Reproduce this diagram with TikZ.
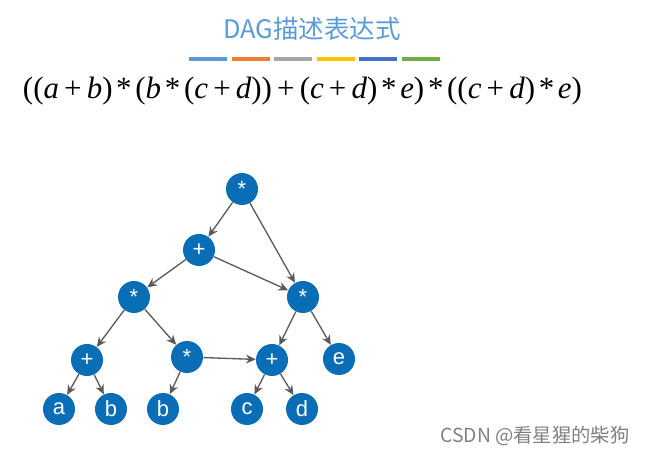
\documentclass[tikz,border=0pt]{standalone}
\usepackage{fontspec}
\newfontfamily\cjk{Noto Sans CJK SC}
\newfontfamily\lblfont{Liberation Sans}
\newfontfamily\timesfont{Liberation Serif}
\usetikzlibrary{positioning,arrows.meta}
\definecolor{nodeblue}{HTML}{0A6EB6}
\definecolor{titleblue}{HTML}{5B9BD5}
\definecolor{edgegray}{HTML}{5A5A5A}
\definecolor{barA}{HTML}{5B9BD5}
\definecolor{barB}{HTML}{ED7D31}
\definecolor{barC}{HTML}{A5A5A5}
\definecolor{barD}{HTML}{FFC000}
\definecolor{barE}{HTML}{4472C4}
\definecolor{barF}{HTML}{70AD47}
\newcommand{\iv}[1]{\textit{#1}}
\newcommand{\pl}{\,+\,}
\newcommand{\ml}{\kern0.12em*\kern0.12em}
\begin{document}
\begin{tikzpicture}[->,>={Stealth[length=5.5pt,width=5pt]},on grid,
	vert/.style={circle, fill=nodeblue, text=white, minimum size=0.64cm, inner sep=0pt, font=\lblfont\fontsize{12.5}{12.5}\selectfont}]
	\useasboundingbox (0,0) rectangle (12.9,-9.1);
	% title, bars and formula
	\node (title) at (6.24,-0.57) [text=titleblue, font=\cjk\fontsize{14.5}{14.5}\selectfont] {DAG描述表达式};
	\foreach \col [count=\i] in {barA,barB,barC,barD,barE,barF}
		\fill[\col] ({3.78+(\i-1)*0.852},-1.14) rectangle ++(0.76,-0.08);
	\node (expr) at (6.05,-1.83) [font=\timesfont\fontsize{17.6}{17.6}\selectfont] {((\iv{a}\pl\iv{b})\ml(\iv{b}\ml(\iv{c}\pl\iv{d}))\pl(\iv{c}\pl\iv{d})\ml\iv{e})\ml((\iv{c}\pl\iv{d})\ml\iv{e})};
	% the DAG
	\node (m1) at (4.84,-3.78) [vert] {*};
	\node (p1) [vert, below left=1.22cm and 0.86cm of m1] {+};
	\node (m2) [vert, below left=0.94cm and 1.30cm of p1] {*};
	\node (m3) [vert, below right=2.16cm and 1.22cm of m1] {*};
	\node (p2) [vert, below left=1.26cm and 0.94cm of m2] {+};
	\node (m4) [vert, below right=1.20cm and 1.06cm of m2] {*};
	\node (p3) [vert, below left=1.26cm and 0.62cm of m3] {+};
	\node (e) [vert, below right=1.24cm and 0.72cm of m3] {e};
	\node (a) [vert, below left=0.98cm and 0.56cm of p2] {a};
	\node (b1) [vert, below right=0.98cm and 0.48cm of p2] {b};
	\node (b2) [vert, below left=1.04cm and 0.48cm of m4] {b};
	\node (c) [vert, below left=0.98cm and 0.50cm of p3] {c};
	\node (d) [vert, below right=0.98cm and 0.60cm of p3] {d};
	\begin{scope}[draw=edgegray, line width=0.75pt]
		\draw (m1) -> (p1);
		\draw (m1) -> (m3);
		\draw (p1) -> (m2);
		\draw (p1) -> (m3);
		\draw (m2) -> (p2);
		\draw (m2) -> (m4);
		\draw (m4) -> (b2);
		\draw (m4) -> (p3);
		\draw (m3) -> (p3);
		\draw (m3) -> (e);
		\draw (p2) -> (a);
		\draw (p2) -> (b1);
		\draw (p3) -> (c);
		\draw (p3) -> (d);
	\end{scope}
	% watermark
	\node (mark) at (10.7,-8.72) [text=gray, font=\cjk\fontsize{11}{11}\selectfont] {CSDN @看星猩的柴狗};
\end{tikzpicture}
\end{document}
